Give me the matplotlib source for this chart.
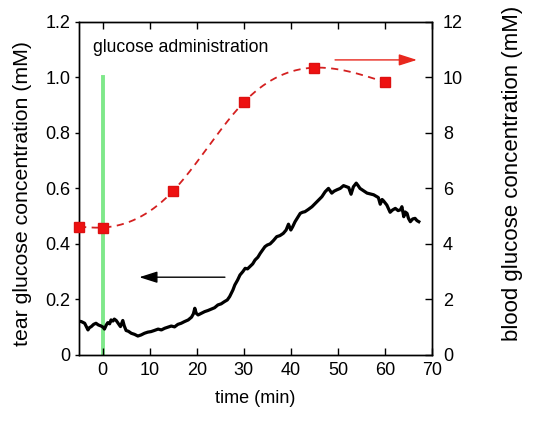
import numpy as np
import matplotlib
matplotlib.use("Agg")
import matplotlib.pyplot as plt

plt.rcParams['font.family'] = ['Liberation Sans', 'DejaVu Sans']

# tear glucose trace (left axis, mM)
tear_t = [-5.2, -4.5, -3.8, -3.4, -3.1, -2.8, -2.4, -1.9, -1.4, -0.9, -0.3, 0.1, 0.4, 0.8, 1.1, 1.5,
          1.8, 2.2, 2.5, 2.9, 3.3, 3.8, 4.3, 4.6, 5.0, 5.5, 6.1, 6.8, 7.5, 8.2, 8.9, 9.6, 10.3,
          11.0, 11.8, 12.5, 13.2, 13.9, 14.6, 15.3, 16.0, 16.7, 17.4, 18.2, 18.9, 19.3, 19.6,
          19.9, 20.3, 21.0, 21.7, 22.4, 23.1, 23.8, 24.5, 25.2, 25.9, 26.5, 27.0, 27.7, 28.1,
          28.7, 29.2, 29.8, 30.3, 30.8, 31.3, 31.9, 32.4, 33.0, 33.5, 34.0, 34.5, 35.0, 35.6,
          36.3, 37.0, 37.7, 38.4, 39.0, 39.5, 40.0, 40.4, 40.9, 41.5, 42.0, 42.5, 43.0, 43.7,
          44.5, 45.2, 45.9, 46.6, 47.3, 48.0, 48.7, 49.2, 49.8, 50.5, 51.2, 51.8, 52.3, 52.8,
          53.3, 53.9, 54.3, 54.7, 55.4, 56.2, 56.9, 57.6, 58.1, 58.6, 59.0, 59.4, 59.7, 60.4,
          61.1, 61.6, 62.2, 62.8, 63.3, 63.6, 64.0, 64.3, 64.7, 65.0, 65.4, 65.9, 66.4, 66.8, 67.2]
tear_v = [0.122, 0.120, 0.114, 0.100, 0.090, 0.098, 0.102, 0.110, 0.114, 0.108, 0.104, 0.100, 0.093,
          0.108, 0.116, 0.112, 0.126, 0.122, 0.129, 0.124, 0.114, 0.102, 0.124, 0.105, 0.088,
          0.085, 0.078, 0.074, 0.068, 0.072, 0.078, 0.082, 0.084, 0.088, 0.093, 0.090, 0.096,
          0.100, 0.104, 0.101, 0.110, 0.114, 0.120, 0.126, 0.136, 0.148, 0.168, 0.150, 0.144,
          0.150, 0.156, 0.160, 0.165, 0.170, 0.180, 0.184, 0.192, 0.198, 0.210, 0.234, 0.252,
          0.270, 0.288, 0.300, 0.312, 0.310, 0.318, 0.328, 0.342, 0.352, 0.366, 0.378, 0.390,
          0.396, 0.400, 0.412, 0.426, 0.430, 0.438, 0.450, 0.471, 0.450, 0.462, 0.480, 0.496,
          0.510, 0.514, 0.516, 0.524, 0.534, 0.546, 0.558, 0.570, 0.588, 0.600, 0.583, 0.590,
          0.595, 0.600, 0.610, 0.606, 0.603, 0.579, 0.606, 0.619, 0.610, 0.600, 0.592, 0.583,
          0.580, 0.577, 0.572, 0.567, 0.543, 0.560, 0.555, 0.540, 0.514, 0.522, 0.528, 0.520,
          0.523, 0.534, 0.498, 0.515, 0.510, 0.492, 0.480, 0.490, 0.492, 0.484, 0.480]

# blood glucose (right axis, mM)
blood_t = [-5, 0, 15, 30, 45, 60]
blood_v = [4.62, 4.59, 5.91, 9.10, 10.35, 9.83]

xticks = [0, 10, 20, 30, 40, 50, 60, 70]
yticks_left = [0, 0.2, 0.4, 0.6, 0.8, 1.0, 1.2]
ylabels_left = ['0', '0.2', '0.4', '0.6', '0.8', '1.0', '1.2']
yticks_right = [0, 2, 4, 6, 8, 10, 12]


def natural_spline(x, y, xs):
    x = np.asarray(x, float); y = np.asarray(y, float)
    n = len(x)
    h = np.diff(x)
    A = np.zeros((n, n)); b = np.zeros(n)
    A[0, 0] = 1; A[-1, -1] = 1
    for i in range(1, n - 1):
        A[i, i - 1] = h[i - 1]
        A[i, i] = 2 * (h[i - 1] + h[i])
        A[i, i + 1] = h[i]
        b[i] = 3 * ((y[i + 1] - y[i]) / h[i] - (y[i] - y[i - 1]) / h[i - 1])
    c = np.linalg.solve(A, b)
    out = np.empty_like(xs)
    for k, xv in enumerate(xs):
        i = min(max(np.searchsorted(x, xv) - 1, 0), n - 2)
        dx = xv - x[i]
        bb = (y[i + 1] - y[i]) / h[i] - h[i] * (2 * c[i] + c[i + 1]) / 3
        d = (c[i + 1] - c[i]) / (3 * h[i])
        out[k] = y[i] + bb * dx + c[i] * dx ** 2 + d * dx ** 3
    return out


fig = plt.figure(figsize=(5.34, 4.21), dpi=100)
ax = fig.add_axes([0.148, 0.157, 0.661, 0.791])
ax2 = ax.twinx()

ax.set_xlim(-5, 70)
ax.set_ylim(0, 1.2)
ax2.set_ylim(0, 12)

# green marker of glucose administration
ax.plot([0, 0], [0, 1.0], color='#7fe88a', lw=2.8, zorder=1)

ax.plot(tear_t, tear_v, color='black', lw=2.3, zorder=3)

xs = np.linspace(blood_t[0], blood_t[-1], 300)
ax2.plot(xs, natural_spline(blood_t, blood_v, xs), color='#d42020', lw=1.3,
         ls=(0, (4, 3)), zorder=2)
ax2.plot(blood_t, blood_v, ls='none', marker='s', ms=7.5, color='#ee1111',
         mec='#dd1111', zorder=4, clip_on=False)

ax.text(-2.1, 1.108, 'glucose administration', fontsize=12.7, va='center', ha='left')

ax.annotate('', xy=(7.8, 0.28), xytext=(26, 0.28),
            arrowprops=dict(arrowstyle='-|>,head_length=1.1,head_width=0.35',
                            color='black', lw=1.0, shrinkA=0, shrinkB=0))
ax.annotate('', xy=(66.8, 1.063), xytext=(49.4, 1.063),
            arrowprops=dict(arrowstyle='-|>,head_length=1.1,head_width=0.35',
                            color='#e8281e', lw=1.0, shrinkA=0, shrinkB=0))

ax.set_xticks(xticks)
ax.set_xticklabels([str(v) for v in xticks])
ax.set_yticks(yticks_left)
ax.set_yticklabels(ylabels_left)
ax2.set_yticks(yticks_right)
ax2.set_yticklabels([str(v) for v in yticks_right])

ax.tick_params(axis='x', direction='in', top=True, length=5, width=1, labelsize=13, pad=5)
ax.tick_params(axis='y', direction='out', length=3, width=1, labelsize=13, pad=3)
ax2.tick_params(axis='y', direction='in', length=5, width=1, labelsize=13, pad=8)

for a in (ax, ax2):
    for s in a.spines.values():
        s.set_linewidth(1.0)

ax.set_xlabel('time (min)', fontsize=13, labelpad=8)
ax.set_ylabel('tear glucose concentration (mM)', fontsize=15.3, labelpad=10)
ax2.set_ylabel('blood glucose concentration (mM)', fontsize=16, rotation=90, labelpad=28)
ax.yaxis.label.set_y(0.485)
ax2.yaxis.label.set_y(0.545)

fig.savefig('out.png', dpi=100)
